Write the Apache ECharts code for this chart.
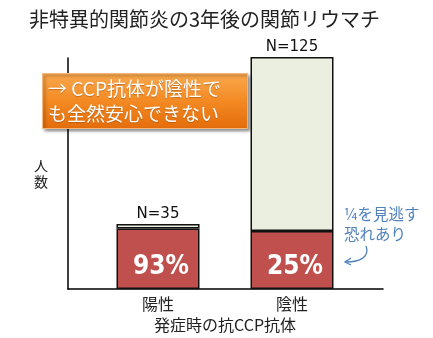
<!DOCTYPE html>
<html>
<head>
<meta charset="utf-8">
<script src="https://cdn.jsdelivr.net/npm/echarts@6/dist/echarts.min.js"></script>
<style>
  html, body { margin: 0; padding: 0; background: #fff; }
  #chart { width: 433px; height: 338px; }
</style>
</head>
<body>
<div id="chart"></div>
<script>
// Anti-CCP status at onset and RA three years later
const categories = ['陽性', '陰性'];
const totals = [35, 125];          // N per group
const raPercent = [93, 25];        // share that developed RA (%)
const yMax = 125;

const raCounts = totals.map((n, i) => n * raPercent[i] / 100);
const otherCounts = totals.map((n, i) => n - raCounts[i]);

const JP = '"Noto Sans CJK JP", "Noto Sans", sans-serif';
const chart = echarts.init(document.getElementById('chart'));

chart.setOption({
  animation: false,
  backgroundColor: '#fff',
  title: {
    text: '非特異的関節炎の3年後の関節リウマチ',
    left: 24, top: 4,
    textStyle: { fontFamily: JP, fontSize: 20, fontWeight: 'normal', color: '#222' }
  },
  grid: [
    { left: 68, right: 50, top: 58, bottom: 49 },
    { left: 91, right: 74, top: 57, bottom: 49 }
  ],
  xAxis: [
    {
      gridIndex: 0, type: 'category', data: categories,
      axisLine: { lineStyle: { color: '#000', width: 1.5 } },
      axisTick: { show: false }, axisLabel: { show: false }
    },
    {
      gridIndex: 1, type: 'category', data: categories,
      axisLine: { show: false }, axisTick: { show: false },
      axisLabel: { margin: 7, fontFamily: JP, fontSize: 16, color: '#222' },
      name: '発症時の抗CCP抗体', nameLocation: 'middle', nameGap: 28,
      nameTextStyle: { fontFamily: JP, fontSize: 16, color: '#222' }
    }
  ],
  yAxis: [
    {
      gridIndex: 0, type: 'value', min: 0, max: yMax,
      axisLine: { show: true, lineStyle: { color: '#000', width: 1.5 } },
      axisTick: { show: false }, axisLabel: { show: false }, splitLine: { show: false },
      name: '人\n数', nameLocation: 'middle', nameGap: 20, nameRotate: 0,
      nameTextStyle: { fontFamily: JP, fontSize: 14, color: '#222', lineHeight: 16, padding: [0, 0, 34, 0] }
    },
    {
      gridIndex: 1, type: 'value', min: 0, max: yMax, show: false
    }
  ],
  series: [
    {
      type: 'bar', xAxisIndex: 1, yAxisIndex: 1, stack: 'n',
      data: raCounts, barWidth: 83,
      itemStyle: { color: '#c0504d', borderColor: '#111', borderWidth: 1.5 },
      label: {
        show: true, position: 'insideBottom', distance: 9, offset: [3, 0],
        formatter: p => raPercent[p.dataIndex] + '%',
        fontFamily: '"Liberation Sans Narrow", "DejaVu Sans Condensed", "Liberation Sans", sans-serif',
        fontWeight: 'bold', fontSize: 26, color: '#fff'
      }
    },
    {
      type: 'bar', xAxisIndex: 1, yAxisIndex: 1, stack: 'n',
      data: otherCounts, barWidth: 83,
      itemStyle: { color: '#ebefdf', borderColor: '#111', borderWidth: 1.5 },
      label: {
        show: true, position: 'top', distance: 2,
        formatter: p => 'N=' + totals[p.dataIndex],
        fontFamily: '"DejaVu Sans", sans-serif', fontSize: 15, color: '#111'
      }
    }
  ],
  graphic: [
    {
      type: 'rect', left: 42, top: 73, z: 10,
      shape: { width: 205, height: 55 },
      style: {
        fill: new echarts.graphic.LinearGradient(0, 0, 0, 1, [
          { offset: 0, color: '#f9a94f' },
          { offset: 0.5, color: '#f38a23' },
          { offset: 1, color: '#e46c0a' }
        ]),
        stroke: '#f6b67a', lineWidth: 1,
        shadowColor: 'rgba(0,0,0,0.45)', shadowBlur: 3, shadowOffsetX: 2, shadowOffsetY: 2
      }
    },
    {
      type: 'text', left: 48, top: 76, z: 11,
      style: {
        text: '→ CCP抗体が陰性で\nも全然安心できない',
        font: '19px "Noto Sans CJK JP", sans-serif', lineHeight: 25,
        fill: '#fff', textShadowColor: 'rgba(120,50,0,0.4)', textShadowBlur: 1, textShadowOffsetY: 1
      }
    },
    {
      type: 'text', left: 344, top: 204, z: 11,
      style: {
        text: '¼を見逃す\n恐れあり',
        font: '15.5px "Noto Sans CJK JP", sans-serif', lineHeight: 20,
        fill: '#4f81bd'
      }
    },
    {
      type: 'bezierCurve', z: 11,
      shape: { x1: 366, y1: 246, x2: 346, y2: 262, cpx1: 370, cpy1: 257, cpx2: 360, cpy2: 262 },
      style: { stroke: '#4f81bd', lineWidth: 1.3, fill: null }
    },
    {
      type: 'polyline', z: 11,
      shape: { points: [[351, 258], [345, 262], [351, 265]] },
      style: { stroke: '#4f81bd', lineWidth: 1.3, fill: null }
    }
  ]
});
</script>
</body>
</html>
